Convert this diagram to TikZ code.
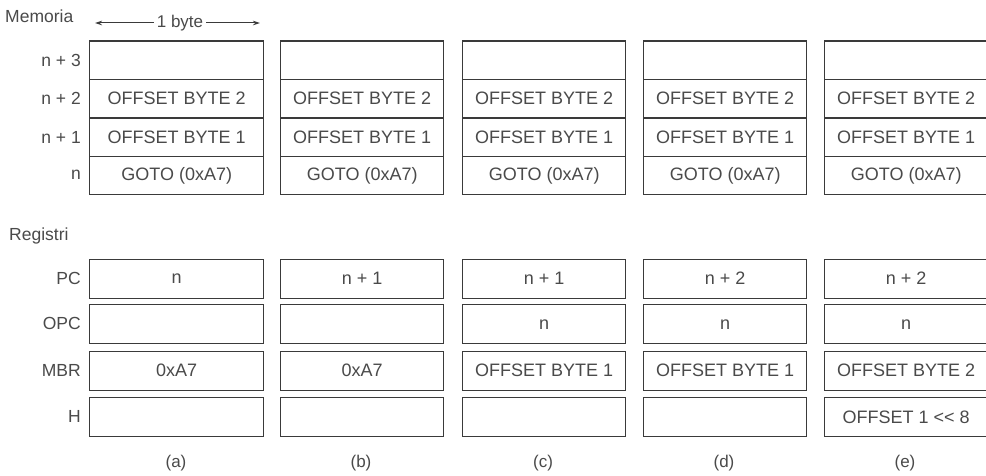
\documentclass[tikz,border=0pt]{standalone}
\usepackage{fontspec}
\setmainfont{Liberation Sans}
\usetikzlibrary{arrows.meta}
\definecolor{ink}{HTML}{3A3A3A}
\definecolor{txt}{HTML}{4A4A4A}
\tikzset{
  cell/.style={draw=ink, line width=1.4pt, minimum height=#1, inner sep=0pt, anchor=north west, text=txt, font=\fontsize{18}{20}\selectfont},
  lbl/.style={anchor=east, text=txt, font=\fontsize{17.5}{20}\selectfont, inner sep=0pt},
  head/.style={anchor=west, text=txt, font=\fontsize{17.5}{20}\selectfont, inner sep=0pt},
  subcap/.style={text=txt, font=\fontsize{17}{20}\selectfont, inner sep=0pt}
}
\begin{document}
\begin{tikzpicture}[x=1pt,y=-1pt]
\useasboundingbox (0,0) rectangle (986,476);
\clip (0,0) rectangle (986,476);
\fill[white] (0,0) rectangle (986,476);
% headings
\node[head] (mem) at (5,16) {Memoria};
\node[head] (reg) at (9,236) {Registri};
\coordinate (bl) at (95,23);
\coordinate (br) at (260,23);
\node[subcap, fill=white, inner xsep=3pt] (byte) at (180,23) {1 byte};
\draw[ink, line width=1pt, -{Stealth[length=7pt,width=4.5pt]}] (byte.west) -- (bl);
\draw[ink, line width=1pt, -{Stealth[length=7pt,width=4.5pt]}] (byte.east) -- (br);
% row labels
\node[lbl] (l3) at (81,60) {n + 3};
\node[lbl] (l2) at (81,98) {n + 2};
\node[lbl] (l1) at (81,137) {n + 1};
\node[lbl] (l0) at (81,175) {n};
\node[lbl] (lpc) at (81,278) {PC};
\node[lbl] (lopc) at (81,323) {OPC};
\node[lbl] (lmbr) at (81,370) {MBR};
\node[lbl] (lh) at (81,416) {H};
% columns
\foreach \c/\x/\w/\pc/\opc/\mbr/\h in {
  a/89/174/n/{}/0xA7/{},
  b/280/163/n + 1/{}/0xA7/{},
  c/462/163/n + 1/n/OFFSET BYTE 1/{},
  d/643/163/n + 2/n/OFFSET BYTE 1/{},
  e/824/163/n + 2/n/OFFSET BYTE 2/{OFFSET 1 <{}< 8}}{
  \node[cell=38.4pt, minimum width=\w pt] (\c m3) at (\x,40.5) {};
  \node[cell=38.4pt, minimum width=\w pt] (\c m2) at (\x,78.9) {OFFSET BYTE 2};
  \node[cell=38.4pt, minimum width=\w pt] (\c m1) at (\x,117.3) {OFFSET BYTE 1};
  \node[cell=38.4pt, minimum width=\w pt] (\c m0) at (\x,155.7) {GOTO (0xA7)};
  \node[cell=39pt, minimum width=\w pt] (\c pc) at (\x,258.5) {\pc};
  \node[cell=39pt, minimum width=\w pt] (\c opc) at (\x,304) {\opc};
  \node[cell=39pt, minimum width=\w pt] (\c mbr) at (\x,350.5) {\mbr};
  \node[cell=39pt, minimum width=\w pt] (\c h) at (\x,397) {\h};
}
\node[subcap] (ca) at (176,463) {(a)};
\node[subcap] (cb) at (361,463) {(b)};
\node[subcap] (cc) at (543,463) {(c)};
\node[subcap] (cd) at (724,463) {(d)};
\node[subcap] (ce) at (905,463) {(e)};
\end{tikzpicture}
\end{document}
